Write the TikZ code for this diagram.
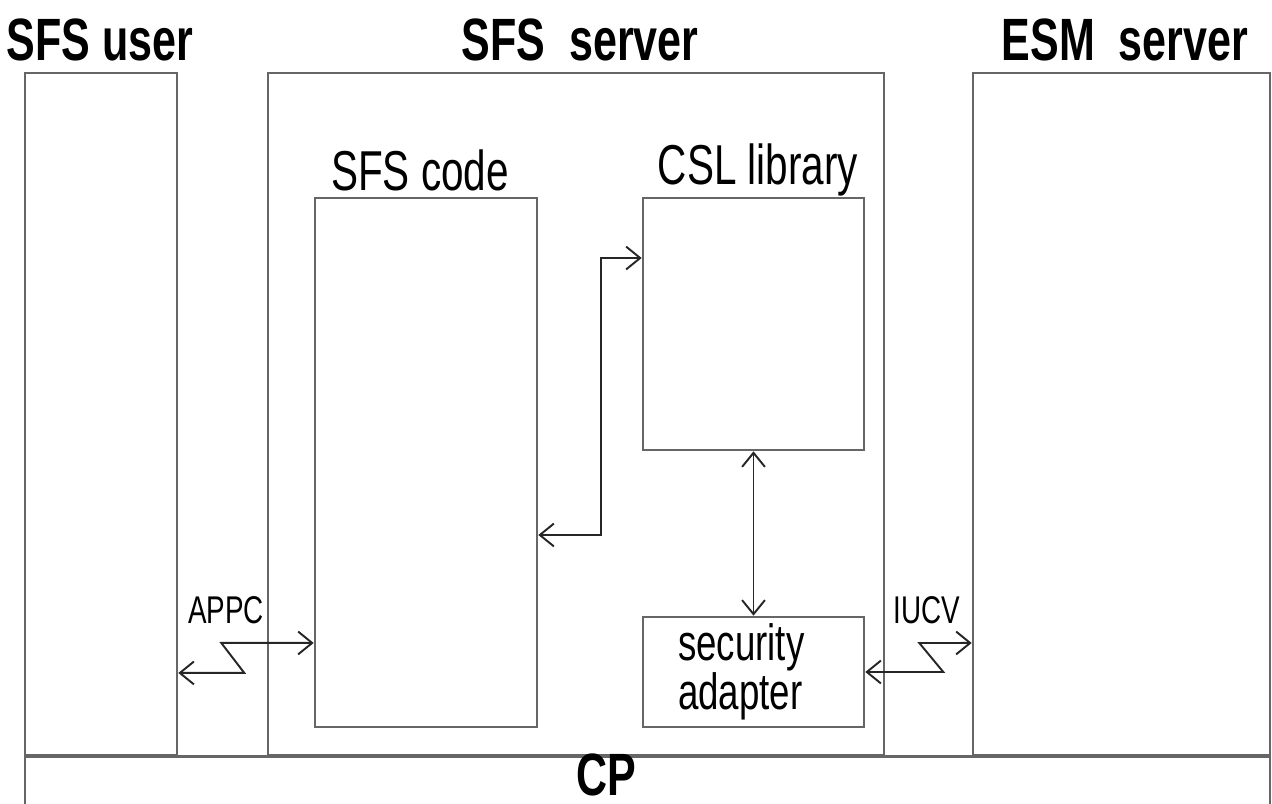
\documentclass[tikz,border=0pt]{standalone}
\usepackage{fontspec}
\newfontfamily\condfont[FakeStretch=0.72]{Liberation Sans}
\usepackage{tikz}
\usetikzlibrary{arrows.meta,positioning}

\begin{document}
\begin{tikzpicture}[
  x=0.02cm, y=-0.02cm,
  box/.style={
    rectangle,
    draw=black!60,
    line width=1.5pt,
    inner sep=0pt
  },
  title/.style={font=\condfont\bfseries\fontsize{34}{34}\selectfont},
  label/.style={font=\condfont\fontsize{32}{32}\selectfont},
  small/.style={font=\condfont\fontsize{22}{22}\selectfont},
  flow/.style={<->, line width=1.1pt, draw=black!85, >={Straight Barb[length=8pt,width=13pt]}}
]
\useasboundingbox (0,0) rectangle (1272,804);

% machines
\node[box, minimum width=3.04cm, minimum height=13.64cm] (user) at (101,414) {};
\node[box, minimum width=12.32cm, minimum height=13.64cm] (server) at (576,414) {};
\node[box, minimum width=5.94cm, minimum height=13.64cm] (esm) at (1121.5,414) {};
\node[box, anchor=north, minimum width=24.9cm, minimum height=1.4cm] (cp) at (647.5,755) {};

\node[title] (usertitle) at (100,40) {SFS user};
\node[title] (servertitle) at (580,40) {SFS~ server};
\node[title] (esmtitle) at (1125,40) {ESM~ server};
\node[title] (cptitle) at (606,775) {CP};

% inside the SFS server
\node[box, minimum width=4.44cm, minimum height=10.58cm] (code) at (426,462.5) {};
\node[box, minimum width=4.42cm, minimum height=2.2cm, inner xsep=0.7cm,
  text width=3.02cm, align=left,
  font=\condfont\fontsize{29}{21}\selectfont] (adapter) at (753.5,672) {security\\adapter};
\node[box, minimum width=4.42cm, minimum height=5.04cm] (csl) at (753.5,324) {};

\node[label] (codetitle) at (420,170) {SFS code};
\node[label] (csltitle) at (758,170) {CSL library};

\node[small] (appc) at (226,610) {APPC};
\node[small] (iucv) at (927,610) {IUCV};

\draw[flow] ([yshift=-1.45cm]code.east) -- ++(63,0) |- ([yshift=1.32cm]csl.west);
\draw[flow] (csl.south) -- (adapter.north);
\draw[flow] ([yshift=-5.18cm]user.east) -- ++(66,0) -- ++(-23,-30) -- ([yshift=-3.61cm]code.west);
\draw[flow] (adapter.east) -- ++(78,0) -- ++(-24,-29) -- ([yshift=-4.58cm]esm.west);

\end{tikzpicture}
\end{document}
